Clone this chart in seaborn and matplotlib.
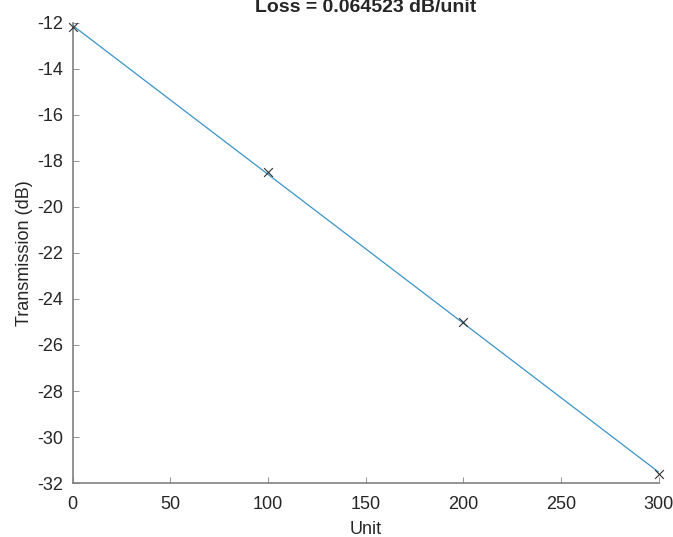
import numpy as np
import pandas as pd
import seaborn as sns
import matplotlib.pyplot as plt

# measured points
unit = [0, 100, 200, 300]
transmission = [-12.2, -18.5, -25.0, -31.6]
loss_text = 'Loss = 0.064523 dB/unit'
xticks = [0, 50, 100, 150, 200, 250, 300]
yticks = [-32, -30, -28, -26, -24, -22, -20, -18, -16, -14, -12]

sns.set_style("ticks")
plt.rcParams['font.family'] = ['Liberation Sans', 'DejaVu Sans']
plt.rcParams['axes.unicode_minus'] = False

df = pd.DataFrame({'Unit': unit, 'Transmission': transmission})
coef = np.polyfit(df['Unit'], df['Transmission'], 1)
fit = pd.DataFrame({'Unit': [unit[0], unit[-1]]})
fit['Transmission'] = np.polyval(coef, fit['Unit'])

fig = plt.figure(figsize=(6.73, 5.37), dpi=100)
ax = fig.add_axes([0.108, 0.1004, 0.871, 0.8573])

sns.lineplot(data=fit, x='Unit', y='Transmission', ax=ax, color='#3a93c8', linewidth=0.9)
sns.scatterplot(data=df, x='Unit', y='Transmission', ax=ax, marker='x', color='#333333',
                s=40, linewidth=0.8, clip_on=False, zorder=3)

ax.set_xlim(0, 300)
ax.set_ylim(-32, -12)
ax.set_xticks(xticks)
ax.set_yticks(yticks)
ax.tick_params(direction='in', length=4, width=0.6, colors='#808080', labelcolor='#262626', labelsize=13)
ax.tick_params(axis='x', pad=9)
ax.tick_params(axis='y', pad=7)
for side in ['top', 'right']:
    ax.spines[side].set_visible(False)
for side in ['left', 'bottom']:
    ax.spines[side].set_color('#808080')
    ax.spines[side].set_linewidth(1.2)

ax.set_xlabel('Unit', fontsize=13, color='#262626', labelpad=6)
ax.set_ylabel('Transmission (dB)', fontsize=13, color='#262626', labelpad=3)
ax.set_title(loss_text, fontsize=14, fontweight='bold', pad=8)

plt.savefig('out.png', dpi=100)
